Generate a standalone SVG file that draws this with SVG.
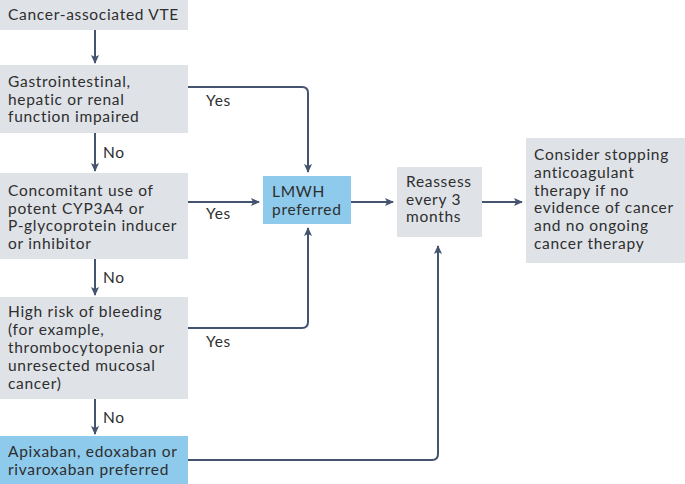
<svg xmlns="http://www.w3.org/2000/svg" width="685" height="484" viewBox="0 0 685 484">
<defs>
<marker id="ah" markerWidth="10" markerHeight="10" refX="8" refY="5" orient="auto" markerUnits="userSpaceOnUse">
<path d="M0,1 L9,5 L0,9 L2,5 Z" fill="#44546f"/>
</marker>
</defs>
<style>
.g{fill:#dfe3e8}
.b{fill:#8dcaec}
.t{font-family:Lato,"Liberation Sans",sans-serif;font-size:15.5px;letter-spacing:0.7px;fill:#2e2e2e}
.c{fill:none;stroke:#44546f;stroke-width:2;marker-end:url(#ah)}
</style>
<rect width="685" height="484" fill="#fff"/>
<g id="n1"><rect class="g" x="0" y="0" width="188" height="30"/><text class="t" x="8" y="20">Cancer-associated VTE</text></g>
<g id="n2"><rect class="g" x="0" y="65" width="188" height="68"/><text class="t"><tspan x="8" y="87">Gastrointestinal,</tspan><tspan x="8" y="104.5">hepatic or renal</tspan><tspan x="8" y="122">function impaired</tspan></text></g>
<g id="n3"><rect class="g" x="0" y="173" width="188" height="86"/><text class="t"><tspan x="8" y="196">Concomitant use of</tspan><tspan x="8" y="213.7">potent CYP3A4 or</tspan><tspan x="8" y="231.4">P-glycoprotein inducer</tspan><tspan x="8" y="249">or inhibitor</tspan></text></g>
<g id="n4"><rect class="g" x="0" y="297" width="188" height="102"/><text class="t"><tspan x="8" y="317">High risk of bleeding</tspan><tspan x="8" y="335">(for example,</tspan><tspan x="8" y="353">thrombocytopenia or</tspan><tspan x="8" y="371">unresected mucosal</tspan><tspan x="8" y="389">cancer)</tspan></text></g>
<g id="n5"><rect class="b" x="0" y="436" width="188" height="48"/><text class="t"><tspan x="8" y="457">Apixaban, edoxaban or</tspan><tspan x="8" y="474.5">rivaroxaban preferred</tspan></text></g>
<g id="n6"><rect class="b" x="263" y="176" width="88" height="48"/><text class="t"><tspan x="272" y="197">LMWH</tspan><tspan x="272" y="214.5">preferred</tspan></text></g>
<g id="n7"><rect class="g" x="397" y="167" width="85" height="70"/><text class="t"><tspan x="406" y="187">Reassess</tspan><tspan x="406" y="204.5">every 3</tspan><tspan x="406" y="222">months</tspan></text></g>
<g id="n8"><rect class="g" x="526" y="138" width="159" height="125"/><text class="t"><tspan x="534" y="160">Consider stopping</tspan><tspan x="534" y="177.8">anticoagulant</tspan><tspan x="534" y="195.6">therapy if no</tspan><tspan x="534" y="213.4">evidence of cancer</tspan><tspan x="534" y="231.2">and no ongoing</tspan><tspan x="534" y="249">cancer therapy</tspan></text></g>
<g id="connectors">
<path class="c" d="M95,30 V63"/>
<path class="c" d="M95,133 V171"/>
<path class="c" d="M95,259 V295"/>
<path class="c" d="M95,399 V434"/>
<path class="c" d="M188,87 H302 Q308,87 308,93 V172"/>
<path class="c" d="M188,202 H259"/>
<path class="c" d="M188,328 H302 Q308,328 308,322 V228"/>
<path class="c" d="M351,202 H393"/>
<path class="c" d="M482,202 H522"/>
<path class="c" d="M188,460 H432 Q438,460 438,454 V246"/>
<text class="t" x="103" y="158">No</text>
<text class="t" x="103" y="283">No</text>
<text class="t" x="103" y="423">No</text>
<text class="t" x="206" y="106">Yes</text>
<text class="t" x="206" y="219">Yes</text>
<text class="t" x="206" y="347">Yes</text>
</g>
</svg>
